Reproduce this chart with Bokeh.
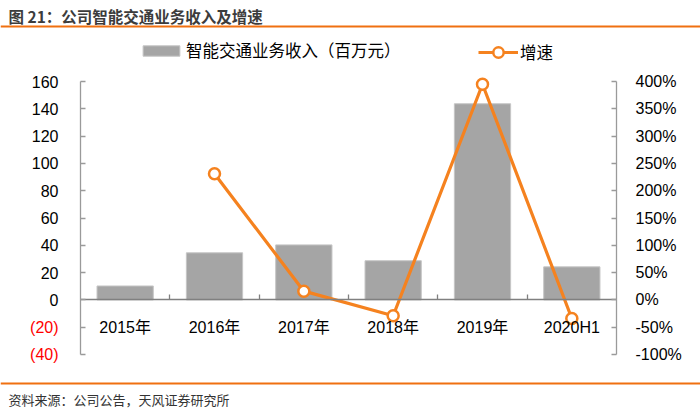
from bokeh.plotting import figure
from bokeh.models import (LinearAxis, Range1d, FixedTicker, CustomJSTickFormatter,
                          PrintfTickFormatter, Legend, LegendItem, Label, BoxAnnotation)
from bokeh.embed import file_html
from bokeh.resources import INLINE

# ---- data ----
categories = ["2015年", "2016年", "2017年", "2018年", "2019年", "2020H1"]
revenue = [10.2, 34.5, 40.3, 28.7, 143.7, 24.2]          # 百万元
growth_categories = ["2016年", "2017年", "2018年", "2019年", "2020H1"]
growth = [231, 16, -29, 395, -34]                          # %
left_ticks = [-40, -20, 0, 20, 40, 60, 80, 100, 120, 140, 160]
right_ticks = [-100, -50, 0, 50, 100, 150, 200, 250, 300, 350, 400]

title_text = "图 21：公司智能交通业务收入及增速"
source_text = "资料来源：公司公告，天风证券研究所"
bar_label = "智能交通业务收入（百万元）"
line_label = "增速"

# ---- layout (pixels) ----
W, H = 700, 409
PLOT_L, PLOT_R, PLOT_T, PLOT_B = 80, 616, 81, 354

# ---- styling ----
FONT = "Liberation Sans, Noto Sans CJK SC"
CJK = "Noto Sans CJK SC"
ORANGE = "#f5821f"
RULE = "#f07010"
AXIS_GRAY = "#9a9a9a"

xs = list(range(len(categories)))
gxs = [categories.index(c) for c in growth_categories]


def span_range(lo, hi, p_lo, p_hi, total, inverted=False):
    # extend a data interval [lo, hi] occupying pixels [p_lo, p_hi] to the full canvas
    per = (hi - lo) / (p_hi - p_lo)
    if inverted:  # vertical: p_lo is top (hi value)
        return Range1d(lo - (total - p_hi) * per, hi + p_lo * per)
    return Range1d(lo - p_lo * per, hi + (total - p_hi) * per)


x_lo, x_hi = -0.5, len(categories) - 0.5
p = figure(width=W, height=H, output_backend="svg", toolbar_location=None,
           x_range=span_range(x_lo, x_hi, PLOT_L, PLOT_R, W),
           y_range=span_range(left_ticks[0], left_ticks[-1], PLOT_T, PLOT_B, H, True),
           x_axis_location=None, y_axis_location=None,
           min_border=0)
p.outline_line_color = None
p.grid.visible = False
p.background_fill_color = "white"
p.border_fill_color = "white"
p.extra_y_ranges = {"pct": span_range(right_ticks[0], right_ticks[-1], PLOT_T, PLOT_B, H, True)}


def style(ax, color="black"):
    ax.major_label_text_font = FONT
    ax.major_label_text_font_size = "16px"
    ax.major_label_text_color = color
    ax.axis_line_color = AXIS_GRAY
    ax.axis_line_width = 1.3
    ax.major_tick_line_color = AXIS_GRAY
    ax.major_tick_line_width = 1.3
    ax.major_tick_in = 5
    ax.major_tick_out = 0
    ax.minor_tick_line_color = None


# left axis (non-negative ticks, black)
yl = LinearAxis(ticker=FixedTicker(ticks=[t for t in left_ticks if t >= 0]),
                fixed_location=x_lo, bounds=(left_ticks[0], left_ticks[-1]))
style(yl)
yl.major_label_standoff = 22
p.add_layout(yl, "left")

# left axis negative ticks in red with parentheses
yneg = LinearAxis(ticker=FixedTicker(ticks=[t for t in left_ticks if t < 0]),
                  fixed_location=x_lo, bounds=(left_ticks[0], left_ticks[-1]),
                  formatter=CustomJSTickFormatter(code="return '(' + Math.abs(tick) + ')';"))
style(yneg, "#ff0000")
yneg.axis_line_color = None
yneg.major_label_standoff = 22
p.add_layout(yneg, "left")

# right axis
yr = LinearAxis(y_range_name="pct", ticker=FixedTicker(ticks=right_ticks),
                fixed_location=x_hi, bounds=(right_ticks[0], right_ticks[-1]),
                formatter=PrintfTickFormatter(format="%d%%"))
style(yr)
yr.major_label_standoff = 19
p.add_layout(yr, "right")

# x axis at zero: boundary ticks
xb = LinearAxis(ticker=FixedTicker(ticks=[i + 0.5 for i in xs[:-1]]), fixed_location=0,
                bounds=(x_lo, x_hi),
                formatter=CustomJSTickFormatter(code="return '';"))
style(xb)
xb.axis_line_color = "#808080"
xb.major_tick_line_color = "#808080"
p.add_layout(xb, "below")

# x axis category labels
xl = LinearAxis(ticker=FixedTicker(ticks=xs), fixed_location=0, bounds=(x_lo, x_hi),
                major_label_overrides={i: c for i, c in zip(xs, categories)})
style(xl)
xl.axis_line_color = None
xl.major_tick_line_color = None
xl.major_label_standoff = 19
p.add_layout(xl, "below")

bars = p.vbar(x=xs, top=revenue, bottom=0, width=0.63,
              fill_color="#a5a5a5", line_color="#c6c6c6", line_width=1)
ln = p.line(gxs, growth, y_range_name="pct", line_color=ORANGE, line_width=3.2)
sc = p.scatter(gxs, growth, y_range_name="pct", marker="circle", size=11,
               fill_color="white", line_color=ORANGE, line_width=2.5)

legend_common = dict(orientation="horizontal", padding=0, margin=0, spacing=0,
                     label_standoff=2, label_text_font=CJK, label_text_font_size="16.5px",
                     label_text_color="black", border_line_color=None,
                     background_fill_alpha=0)
legend_bar = Legend(items=[LegendItem(label=bar_label, renderers=[bars])],
                    location=(138, 347), glyph_width=46, glyph_height=13, **legend_common)
legend_line = Legend(items=[LegendItem(label=line_label, renderers=[ln, sc])],
                     location=(478, 344), glyph_width=40, glyph_height=26, **legend_common)
p.add_layout(legend_bar, "center")
p.add_layout(legend_line, "center")

# title and source (screen units, origin bottom-left)
p.add_layout(Label(x=8, y=H - 4, x_units="screen", y_units="screen", text=title_text,
                   text_font=CJK, text_font_size="15.5px", text_font_style="bold",
                   text_color="#3c3c3c", text_baseline="top", text_align="left"))
p.add_layout(BoxAnnotation(left=0, right=W, top=H - 25, bottom=H - 27,
                           left_units="screen", right_units="screen",
                           top_units="screen", bottom_units="screen",
                           fill_color=RULE, fill_alpha=1, line_color=None))
p.add_layout(BoxAnnotation(left=0, right=W, top=H - 382, bottom=H - 384,
                           left_units="screen", right_units="screen",
                           top_units="screen", bottom_units="screen",
                           fill_color=RULE, fill_alpha=1, line_color=None))
p.add_layout(Label(x=8, y=H - 399, x_units="screen", y_units="screen", text=source_text,
                   text_font=CJK, text_font_size="13px",
                   text_color="#333333", text_baseline="middle", text_align="left"))

open("out.html", "w").write(file_html(p, INLINE))
